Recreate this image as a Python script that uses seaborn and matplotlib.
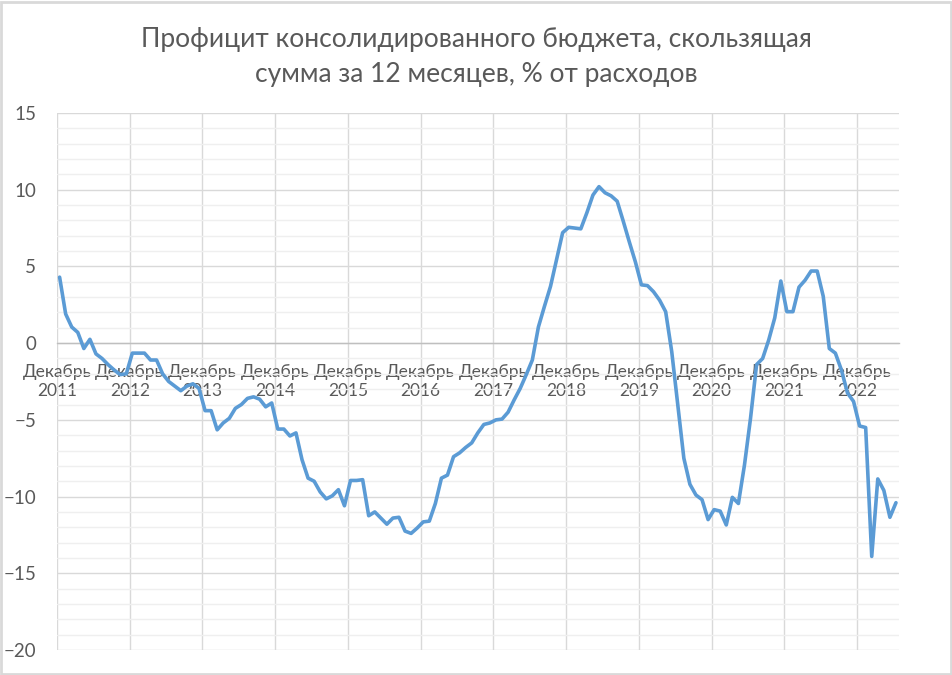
import numpy as np
import pandas as pd
import matplotlib
matplotlib.use('Agg')
import matplotlib.pyplot as plt
from matplotlib.patches import Rectangle
from matplotlib.ticker import MultipleLocator
import seaborn as sns

# monthly values, Dec 2011 .. Jun 2023
surplus = [4.3, 1.9, 1.05, 0.7, -0.35, 0.25, -0.7, -1.0, -1.4, -1.75, -2.05, -2.0,
           -0.65, -0.65, -0.65, -1.1, -1.1, -2.0, -2.5, -2.8, -3.1, -2.8, -2.65, -2.95,
           -4.4, -4.4, -5.65, -5.2, -4.9, -4.25, -4.0, -3.6, -3.5, -3.65, -4.15, -3.9,
           -5.6, -5.6, -6.05, -5.85, -7.6, -8.8, -9.0, -9.7, -10.15, -9.95, -9.55, -10.6,
           -8.95, -8.95, -8.9, -11.25, -11.0, -11.4, -11.8, -11.4, -11.35, -12.25, -12.4, -12.05,
           -11.65, -11.6, -10.45, -8.8, -8.6, -7.4, -7.15, -6.8, -6.5, -5.85, -5.3, -5.2,
           -5.0, -4.95, -4.5, -3.7, -2.95, -2.05, -1.1, 1.05, 2.4, 3.7, 5.45, 7.2,
           7.55, 7.5, 7.45, 8.5, 9.65, 10.2, 9.8, 9.6, 9.25, 7.95, 6.6, 5.3,
           3.8, 3.75, 3.35, 2.8, 2.05, -0.55, -4.0, -7.5, -9.2, -9.9, -10.2, -11.5,
           -10.85, -10.95, -11.85, -10.05, -10.45, -7.95, -4.9, -1.4, -1.0, 0.2, 1.65, 4.05,
           2.05, 2.05, 3.65, 4.1, 4.7, 4.7, 3.05, -0.35, -0.65, -1.75, -3.25, -3.8,
           -5.4, -5.5, -13.9, -8.85, -9.6, -11.35, -10.4]
years = ['2011', '2012', '2013', '2014', '2015', '2016', '2017',
         '2018', '2019', '2020', '2021', '2022']
title = 'Профицит консолидированного бюджета, скользящая\nсумма за 12 месяцев, % от расходов'

df = pd.DataFrame({'m': np.arange(len(surplus)), 'val': surplus})

sns.set_style('white')
plt.rcParams['font.family'] = ['Lato', 'DejaVu Sans']

fig = plt.figure(figsize=(9.53, 6.75), dpi=100)
ax = fig.add_axes([57/953, 25/675, (899-57)/953, (650-113)/675])

sns.lineplot(data=df, x='m', y='val', ax=ax, color='#5B9BD5', linewidth=2.6, zorder=3)

ax.set_ylim(-20, 15)
ax.set_xlim(-0.43, 138.5)
ax.yaxis.set_major_locator(MultipleLocator(5))
ax.yaxis.set_minor_locator(MultipleLocator(1))
ax.set_xticks([12 * i - 0.43 for i in range(len(years))])
ax.set_xticklabels(['Декабрь\n' + y for y in years], linespacing=1.5)

ax.set_axisbelow(True)
ax.grid(which='major', axis='both', color='#d9d9d9', linewidth=1.0)
ax.grid(which='minor', axis='y', color='#efefef', linewidth=1.0)

for s in ['top', 'right', 'left']:
    ax.spines[s].set_visible(False)
ax.spines['bottom'].set_position(('data', 0))
ax.spines['bottom'].set_color('#bfbfbf')
ax.spines['bottom'].set_linewidth(1.0)

ax.tick_params(axis='both', which='both', length=0, labelsize=12.5, labelcolor='#595959')
ax.tick_params(axis='y', labelsize=13.5, pad=15)
ax.tick_params(axis='x', pad=15)
ax.set_xlabel('')
ax.set_ylabel('')

fig.text(0.5, 1 - 57/675, title, ha='center', va='center', fontsize=19,
         color='#595959', linespacing=1.5)

fig.patches.append(Rectangle((0.001, 0.002), 0.997, 0.995, transform=fig.transFigure,
                             fill=False, edgecolor='#d9d9d9', linewidth=2))

fig.savefig('out.png', dpi=100)
